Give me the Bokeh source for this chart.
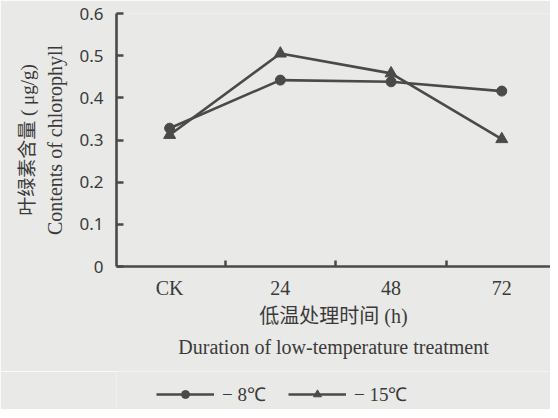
from bokeh.plotting import figure
from bokeh.layouts import column
from bokeh.models import Range1d, FixedTicker, Title, Legend, LegendItem, ColumnDataSource
from bokeh.embed import file_html
from bokeh.resources import INLINE

# ---- data ----
categories = ["CK", "24", "48", "72"]
minus8 = [0.328, 0.442, 0.438, 0.416]
minus15 = [0.312, 0.505, 0.458, 0.302]
y_ticks = [0, 0.1, 0.2, 0.3, 0.4, 0.5, 0.6]
series_labels = ["− 8℃", "− 15℃"]

xs = list(range(len(categories)))
BG = "#e9e9e7"
INK = "#3a3a3a"
LINE = "#4a4a4a"
SERIF = "Liberation Serif"
MIXED = "'Liberation Serif', 'Noto Sans CJK SC'"

p = figure(frame_width=434, frame_height=253, output_backend="svg", toolbar_location=None,
           x_range=Range1d(-0.48, 3.44), y_range=Range1d(0, 0.6),
           min_border_left=116, min_border_right=0, min_border_top=13, min_border_bottom=105)
p.background_fill_color = BG
p.border_fill_color = BG
p.outline_line_color = None
p.grid.visible = False

src8 = ColumnDataSource(dict(x=xs, y=minus8))
src15 = ColumnDataSource(dict(x=xs, y=minus15))
p.line("x", "y", source=src8, line_color=LINE, line_width=2.6)
p.scatter("x", "y", source=src8, marker="circle", size=10, fill_color=LINE, line_color=LINE)
p.line("x", "y", source=src15, line_color=LINE, line_width=2.6)
p.scatter("x", "y", source=src15, marker="triangle", size=12, fill_color=LINE, line_color=LINE)

# x axis
xa = p.xaxis[0]
xa.ticker = FixedTicker(ticks=xs, minor_ticks=[i + 0.5 for i in xs])
xa.major_label_overrides = {i: c for i, c in enumerate(categories)}
xa.major_tick_line_color = None
xa.minor_tick_in = 6
xa.minor_tick_out = 0
xa.minor_tick_line_width = 2.5
xa.minor_tick_line_color = LINE
xa.axis_line_width = 2.6
xa.axis_line_color = LINE
xa.major_label_text_font = SERIF
xa.major_label_text_font_size = "20px"
xa.major_label_text_color = INK
xa.major_label_standoff = 4
xa.axis_label = "低温处理时间 (h)"
xa.axis_label_text_font = MIXED
xa.axis_label_text_font_size = "20px"
xa.axis_label_text_font_style = "normal"
xa.axis_label_text_color = INK
xa.axis_label_standoff = 3

# y axis
ya = p.yaxis[0]
ya.ticker = FixedTicker(ticks=y_ticks)
ya.major_label_overrides = {0: "0"}
ya.major_tick_in = 7
ya.major_tick_out = 0
ya.major_tick_line_width = 2.5
ya.major_tick_line_color = LINE
ya.minor_tick_line_color = None
ya.axis_line_width = 2.6
ya.axis_line_color = LINE
ya.major_label_text_font = "Noto Sans"
ya.major_label_text_font_size = "17px"
ya.major_label_text_color = INK
ya.major_label_standoff = 13
ya.axis_label = "Contents of chlorophyll"
ya.axis_label_text_font = SERIF
ya.axis_label_text_font_size = "20px"
ya.axis_label_text_font_style = "normal"
ya.axis_label_text_color = INK
ya.axis_label_standoff = 10

# outer titles
t_left = Title(text="叶绿素含量 ( μg/g)", align="center", text_font=MIXED,
               text_font_size="19px", text_font_style="normal", text_color=INK, standoff=8)
p.add_layout(t_left, "left")
t_below = Title(text="Duration of low-temperature treatment", align="center", text_font=SERIF,
                text_font_size="20px", text_font_style="normal", text_color=INK, standoff=8)
p.add_layout(t_below, "below")

# legend strip below the chart (its glyphs are kept out of its own view)
lf = figure(width=550, height=38, output_backend="svg", toolbar_location=None,
            x_range=Range1d(100, 101), y_range=Range1d(100, 101),
            x_axis_location=None, y_axis_location=None,
            min_border_left=0, min_border_right=0, min_border_top=0, min_border_bottom=0)
lf.background_fill_color = BG
lf.border_fill_color = BG
lf.outline_line_color = None
lf.grid.visible = False
g8l = lf.line("x", "y", source=src8, line_color=LINE, line_width=2.6)
g8m = lf.scatter("x", "y", source=src8, marker="circle", size=10, fill_color=LINE, line_color=LINE)
g15l = lf.line("x", "y", source=src15, line_color=LINE, line_width=2.6)
g15m = lf.scatter("x", "y", source=src15, marker="triangle", size=12, fill_color=LINE, line_color=LINE)

legend = Legend(items=[LegendItem(label=series_labels[0], renderers=[g8l, g8m]),
                       LegendItem(label=series_labels[1], renderers=[g15l, g15m])],
                orientation="horizontal", location=(40, 2),
                border_line_color=None, background_fill_alpha=0,
                label_text_font=SERIF, label_text_font_size="19px", label_text_color=INK,
                glyph_width=58, glyph_height=20, label_standoff=8, spacing=22,
                padding=0, margin=0)
lf.add_layout(legend)

page = column(p, lf, spacing=0)
open("out.html", "w").write(file_html(page, INLINE))
